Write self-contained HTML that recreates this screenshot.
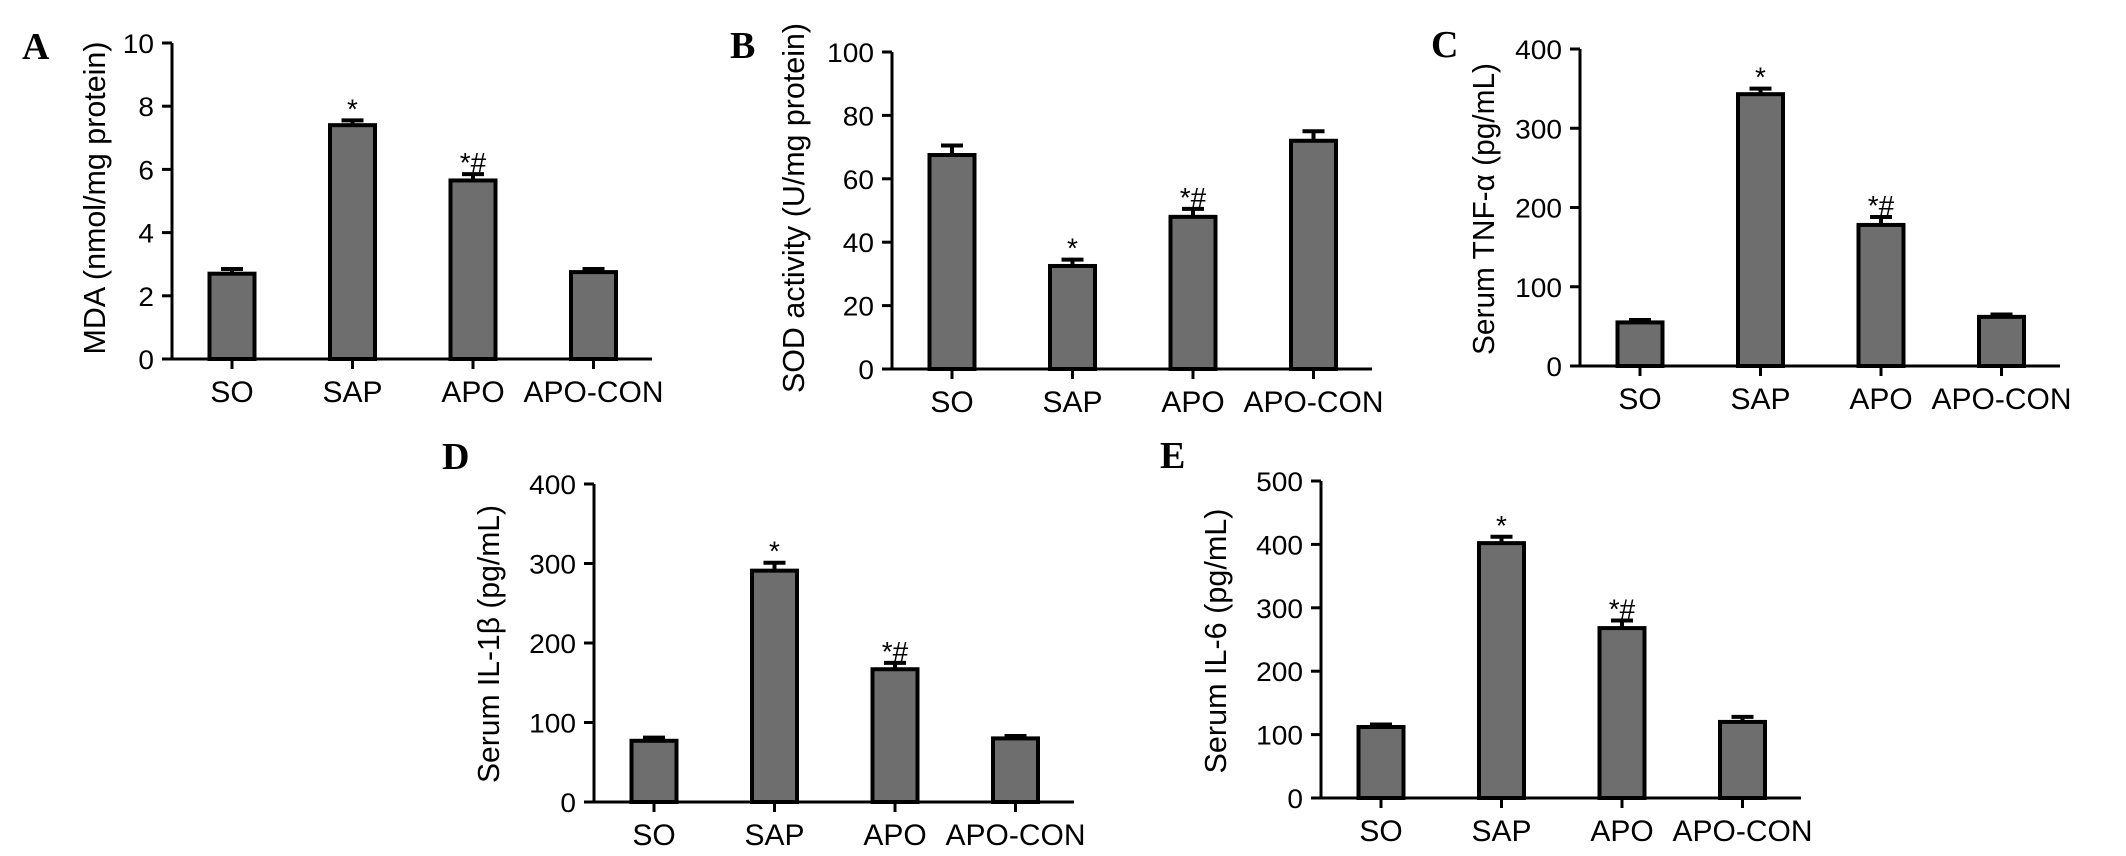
<!DOCTYPE html>
<html><head><meta charset="utf-8"><style>
html,body{margin:0;padding:0;background:#fff;overflow:hidden;}
svg{display:block;font-family:"Liberation Sans",Arial,sans-serif;}
</style></head><body>
<svg id="fig" width="2126" height="856" viewBox="0 0 2126 856"></svg>
<script>
const categories = ["SO","SAP","APO","APO-CON"];
const valsA = [2.7, 7.4, 5.65, 2.75];
const errA  = [0.15, 0.15, 0.2, 0.1];
const valsB = [67.5, 32.5, 48, 72];
const errB  = [3, 2, 2.5, 3];
const valsC = [55, 343, 178, 62];
const errC  = [3, 7, 10, 3];
const valsD = [77, 291, 167, 80];
const errD  = [4, 10, 8, 3];
const valsE = [112, 402, 268, 120];
const errE  = [4, 10, 12, 8];
const marksAll = ["", "*", "*#", ""];
const ticksA = [0,2,4,6,8,10];
const ticksB = [0,20,40,60,80,100];
const ticksC = [0,100,200,300,400];
const ticksD = [0,100,200,300,400];
const ticksE = [0,100,200,300,400,500];

const NS="http://www.w3.org/2000/svg";
const svg=document.getElementById('fig');
function mk(tag,attrs,parent){const e=document.createElementNS(NS,tag);for(const k in attrs)e.setAttribute(k,attrs[k]);(parent||svg).appendChild(e);return e;}
function stretch(t,f){const w=t.getComputedTextLength();t.setAttribute('textLength',(w*f).toFixed(1));t.setAttribute('lengthAdjust','spacingAndGlyphs');}

function panel(cfg){
  const g=mk('g',{});
  
  
  const x0=cfg.x0, yt=cfg.yt, yz=cfg.yz, ymax=cfg.ticks[cfg.ticks.length-1];
  const yS=v=>yz-(v/ymax)*(yz-yt);
  const xS=i=>x0+60+i*120.5;
  const L=mk('text',{x:cfg.lx,y:cfg.ly,'font-family':'"Liberation Serif",serif','font-weight':'bold','font-size':38},g);
  L.textContent=cfg.id;
  
  
  const T=mk('text',{x:0,y:0,'font-size':31,'text-anchor':'middle',transform:`translate(${cfg.tx},${cfg.ty}) rotate(-90)`},g);
  T.textContent=cfg.title;
  
  
  T.setAttribute('textLength',cfg.tl);
  T.setAttribute('lengthAdjust','spacingAndGlyphs');
  cfg.vals.forEach((v,i)=>{
    const cx=xS(i), e=cfg.err[i];
    const eb=mk('path',{d:`M${cx} ${yS(v)} V${yS(v+e)} M${cx-11} ${yS(v+e)} H${cx+11}`,stroke:'#000','stroke-width':4,fill:'none'},g);
    
    
    const r=mk('rect',{x:cx-22.5,y:yS(v),width:45,height:yz-yS(v),fill:'#6e6e6e',stroke:'#000','stroke-width':4},g);
    
    
    if(cfg.marks[i]){
      const s=mk('text',{x:cx,y:yS(v+e)-2,'font-size':28,'text-anchor':'middle'},g);
      s.textContent=cfg.marks[i];
      
      
    }
    const tk=mk('line',{x1:cx,x2:cx,y1:yz,y2:yz+10,stroke:'#000','stroke-width':3},g);
    
    
    const lb=mk('text',{x:cx,y:yz+43,'font-size':30,'text-anchor':'middle'},g);
    lb.textContent=categories[i];
    
    
  });
  const ax=mk('path',{d:`M${x0} ${yt} V${yz} M${x0-10} ${yz} H${x0+480}`,stroke:'#000','stroke-width':3,fill:'none'},g);
  
  
  cfg.ticks.forEach(t=>{
    const tl=mk('line',{x1:x0-10,x2:x0,y1:yS(t),y2:yS(t),stroke:'#000','stroke-width':3},g);
    
    
    const tt=mk('text',{x:x0-18,y:yS(t)+10,'font-size':27,'text-anchor':'end'},g);
    tt.textContent=t;
    
    
    stretch(tt,1.04);
  });
}
panel({id:'A',x0:172,yt:43,yz:359,lx:22,ly:59,tx:105,ty:198,tl:313,title:'MDA (nmol/mg protein)',vals:valsA,err:errA,ticks:ticksA,marks:marksAll});
panel({id:'B',x0:892,yt:52,yz:369,lx:730,ly:58,tx:804,ty:208,tl:370,title:'SOD activity (U/mg protein)',vals:valsB,err:errB,ticks:ticksB,marks:marksAll});
panel({id:'C',x0:1580,yt:49,yz:366,lx:1431,ly:57,tx:1494,ty:209,tl:292,title:'Serum TNF-α (pg/mL)',vals:valsC,err:errC,ticks:ticksC,marks:marksAll});
panel({id:'D',x0:594,yt:484,yz:802,lx:442,ly:469,tx:499,ty:644,tl:278,title:'Serum IL-1β (pg/mL)',vals:valsD,err:errD,ticks:ticksD,marks:marksAll});
panel({id:'E',x0:1321,yt:481,yz:798,lx:1160,ly:468,tx:1226,ty:641,tl:265,title:'Serum IL-6 (pg/mL)',vals:valsE,err:errE,ticks:ticksE,marks:marksAll});
</script>
</body></html>
